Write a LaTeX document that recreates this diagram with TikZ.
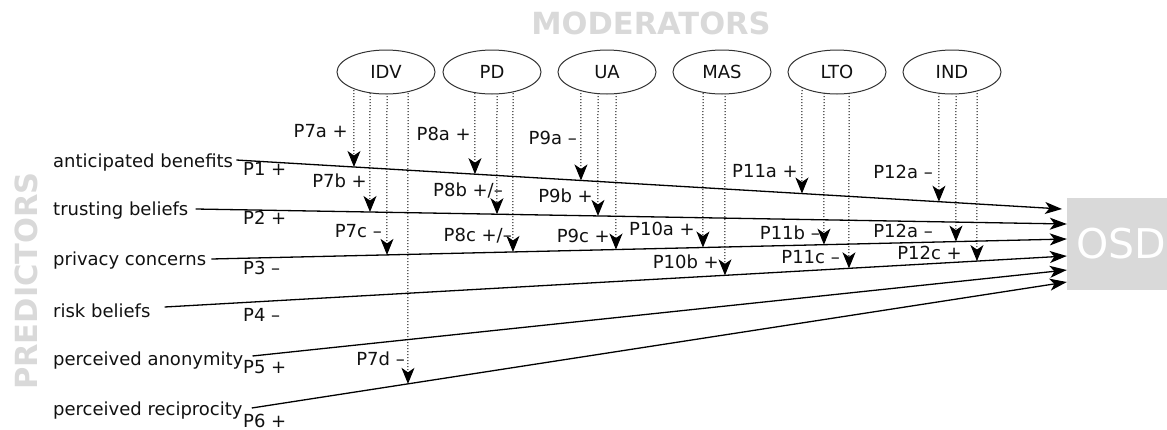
\documentclass[tikz,border=0pt]{standalone}
\usepackage{fontspec}
\setmainfont{DejaVu Sans}
\usetikzlibrary{arrows.meta,backgrounds,shapes.geometric}
\definecolor{lightgr}{HTML}{D9D9D9}
\definecolor{inkc}{HTML}{111111}
\begin{document}
\begin{tikzpicture}[x=1pt,y=-1pt,
  every node/.style={inner sep=0pt, text=inkc, font=\fontsize{18}{21}\selectfont},
  titletext/.style={text=lightgr, font=\fontsize{30.5}{36}\selectfont\bfseries},
  moderator/.style={ellipse, draw=black!80, line width=1pt, fill=white,
    minimum width=98pt, minimum height=44pt},
  osdbox/.style={rectangle, fill=lightgr, minimum width=108pt, minimum height=92pt,
    text=white, font=\fontsize{41}{48}\selectfont},
  predarrow/.style={draw=black, line width=1.3pt,
    -{Stealth[length=17pt,width=12pt,inset=4.5pt]}},
  modarrow/.style={draw=black, line width=1pt, dash pattern=on 1.2pt off 1.8pt,
    -{Stealth[length=16pt,width=13pt,inset=4.5pt]}},
  plabel/.style={anchor=base west},
  mlabel/.style={anchor=base east},
  predictor/.style={anchor=base west}
]
\path[use as bounding box] (0,0) rectangle (1167,429);

% titles
\node[titletext] (modtitle) at (651,23) {MODERATORS};
\node[titletext, rotate=90] (predtitle) at (26,281) {PREDICTORS};

% outcome
\node[osdbox] (OSD) at (1121,244) {OSD};

% moderators
\node[moderator] (IDV) at (386,72) {IDV};
\node[moderator] (PD)  at (492,72) {PD};
\node[moderator] (UA)  at (607,72) {UA};
\node[moderator] (MAS) at (722,72) {MAS};
\node[moderator] (LTO) at (837,72) {LTO};
\node[moderator] (IND) at (952,72) {IND};

% predictors
\node[predictor] (ab) at (53,167) {anticipated benefits};
\node[predictor] (tb) at (53,215) {trusting beliefs};
\node[predictor] (pc) at (53,265) {privacy concerns};
\node[predictor] (rb) at (53,317) {risk beliefs};
\node[predictor] (pa) at (53,365) {perceived anonymity};
\node[predictor] (pr) at (53,415) {perceived reciprocity};

% line end points
\coordinate (s1) at ([shift={(3,-7)}]ab.base east);
\coordinate (s2) at ([shift={(7,-6)}]tb.base east);
\coordinate (s3) at ([shift={(5,-6)}]pc.base east);
\coordinate (s4) at ([shift={(14,-10)}]rb.base east);
\coordinate (s5) at ([shift={(9,-9)}]pa.base east);
\coordinate (s6) at ([shift={(9,-7)}]pr.base east);
\coordinate (e1) at (1062,209);
\coordinate (e2) at (OSD.west |- 0,224);
\coordinate (e3) at (OSD.west |- 0,239);
\coordinate (e4) at (OSD.west |- 0,256);
\coordinate (e5) at (OSD.west |- 0,270);
\coordinate (e6) at (OSD.west |- 0,282);

% predictor arrows
\draw[predarrow] (s1) -- (e1);
\draw[predarrow] (s2) -- (e2);
\draw[predarrow] (s3) -- (e3);
\draw[predarrow] (s4) -- (e4);
\draw[predarrow] (s5) -- (e5);
\draw[predarrow] (s6) -- (e6);

% predictor path labels
\node[plabel] (p1) at (243,175) {P1 +};
\node[plabel] (p2) at (243,224) {P2 +};
\node[plabel] (p3) at (243,274) {P3 –};
\node[plabel] (p4) at (243,321) {P4 –};
\node[plabel] (p5) at (243,373) {P5 +};
\node[plabel] (p6) at (243,427) {P6 +};

% moderator arrows (behind the ellipses)
\begin{scope}[on background layer]
\draw[modarrow] (IDV.center -| 354,0) -- (intersection of 354,0--354,1 and s1--e1);
\draw[modarrow] (IDV.center -| 370,0) -- (intersection of 370,0--370,1 and s2--e2);
\draw[modarrow] (IDV.center -| 387,0) -- (intersection of 387,0--387,1 and s3--e3);
\draw[modarrow] (IDV.center -| 408,0) -- (intersection of 408,0--408,1 and s6--e6);
\draw[modarrow] (PD.center -| 475,0) -- (intersection of 475,0--475,1 and s1--e1);
\draw[modarrow] (PD.center -| 497,0) -- (intersection of 497,0--497,1 and s2--e2);
\draw[modarrow] (PD.center -| 513,0) -- (intersection of 513,0--513,1 and s3--e3);
\draw[modarrow] (UA.center -| 581,0) -- (intersection of 581,0--581,1 and s1--e1);
\draw[modarrow] (UA.center -| 598,0) -- (intersection of 598,0--598,1 and s2--e2);
\draw[modarrow] (UA.center -| 616,0) -- (intersection of 616,0--616,1 and s3--e3);
\draw[modarrow] (MAS.center -| 703,0) -- (intersection of 703,0--703,1 and s3--e3);
\draw[modarrow] (MAS.center -| 725,0) -- (intersection of 725,0--725,1 and s4--e4);
\draw[modarrow] (LTO.center -| 802,0) -- (intersection of 802,0--802,1 and s1--e1);
\draw[modarrow] (LTO.center -| 824,0) -- (intersection of 824,0--824,1 and s3--e3);
\draw[modarrow] (LTO.center -| 849,0) -- (intersection of 849,0--849,1 and s4--e4);
\draw[modarrow] (IND.center -| 939,0) -- (intersection of 939,0--939,1 and s1--e1);
\draw[modarrow] (IND.center -| 956,0) -- (intersection of 956,0--956,1 and s3--e3);
\draw[modarrow] (IND.center -| 977,0) -- (intersection of 977,0--977,1 and s4--e4);
\end{scope}

% moderator path labels
\node[mlabel] (m7a) at (348,137) {P7a +};
\node[mlabel] (m7b) at (367,187) {P7b +};
\node[mlabel] (m7c) at (382,237) {P7c –};
\node[mlabel] (m7d) at (405,365) {P7d –};
\node[mlabel] (m8a) at (471,140) {P8a +};
\node[mlabel] (m8b) at (503,196) {P8b +/–};
\node[mlabel] (m8c) at (512,241) {P8c +/–};
\node[mlabel] (m9a) at (577,144) {P9a –};
\node[mlabel] (m9b) at (593,202) {P9b +};
\node[mlabel] (m9c) at (610,242) {P9c +};
\node[mlabel] (m10a) at (695,235) {P10a +};
\node[mlabel] (m10b) at (719,268) {P10b +};
\node[mlabel] (m11a) at (798,177) {P11a +};
\node[mlabel] (m11b) at (820,239) {P11b –};
\node[mlabel] (m11c) at (840,263) {P11c –};
\node[mlabel] (m12a) at (933,178) {P12a –};
\node[mlabel] (m12b) at (933,237) {P12a –};
\node[mlabel] (m12c) at (962,259) {P12c +};
\end{tikzpicture}
\end{document}
